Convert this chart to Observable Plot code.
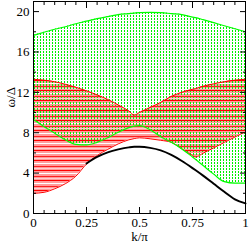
<!DOCTYPE html>
<html><head><meta charset="utf-8">
<script src="https://cdn.jsdelivr.net/npm/d3@7"></script>
<script src="https://cdn.jsdelivr.net/npm/@observablehq/plot@0.6"></script>
<style>html,body{margin:0;padding:0;background:#fff}svg{display:block}#chart svg, #chart svg text{font-family:"Liberation Serif","Times New Roman",serif !important}</style>
</head><body>
<svg width="0" height="0" style="position:absolute">
  <defs>
    <pattern id="pinkFill" patternUnits="userSpaceOnUse" width="4" height="10">
      <rect width="4" height="10" fill="#ff9c9c"/>
      <rect y="3" width="4" height="1" fill="#ffffff"/>
      <rect y="8" width="4" height="1" fill="#ffd0d0"/>
    </pattern>
    <pattern id="redLines" patternUnits="userSpaceOnUse" width="4" height="10">
      <rect y="0" width="4" height="1" fill="#ff0000"/>
      <rect y="6" width="4" height="1" fill="#ff2020"/>
    </pattern>
    <pattern id="greenDots" patternUnits="userSpaceOnUse" width="3" height="3">
      <rect x="1" y="0" width="1" height="2" fill="#00ee00"/>
    </pattern>
  </defs>
</svg>
<div id="chart"></div>
<script>
// momentum grid k/π
const K  = [0,0.05,0.1,0.15,0.2,0.25,0.3,0.35,0.4,0.45,0.475,0.5,0.55,0.6,0.65,0.7,0.75,0.765,0.8,0.85,0.9,0.95,1];
// two-particle continuum (red): lower / upper edge
const twoLow  = [2.0,2.1,2.45,2.95,3.7,4.9,5.75,6.35,6.9,7.3,7.42,7.5,7.4,7.25,7.05,6.4,5.75,5.6,5.97,6.5,7.04,7.57,8.1];
const twoHigh = [13.3,13.2,13.05,12.8,12.5,12.15,11.75,11.3,10.75,10.15,9.75,10.0,10.5,11.0,11.6,12.0,12.3,12.37,12.6,12.85,13.05,13.2,13.3];
// three-particle continuum (green): lower / upper edge
const threeLow  = [9.3,8.6,7.95,7.3,6.85,6.8,7.05,7.5,8.05,8.5,8.65,8.7,8.3,7.6,7.05,6.4,5.6,5.35,4.75,3.9,3.15,3.0,3.0];
const threeHigh = [17.65,17.95,18.25,18.5,18.8,19.05,19.3,19.5,19.7,19.8,19.85,19.9,19.93,19.9,19.8,19.7,19.45,19.4,19.2,18.9,18.6,18.3,18.0];
// single-particle dispersion (black), visible part
const single = [null,null,null,null,null,4.95,5.6,6.05,6.35,6.55,6.6,6.6,6.5,6.25,5.8,5.2,4.5,4.28,3.75,2.95,2.15,1.4,1.0];

const xMajor = [0,0.25,0.5,0.75,1];
const xMajorLabels = ["0","0.25","0.5","0.75","1"];
const xMinor = [0.05,0.1,0.15,0.2,0.3,0.35,0.4,0.45,0.55,0.6,0.65,0.7,0.8,0.85,0.9,0.95];
const yMajor = [0,4,8,12,16,20];
const yMinor = [2,6,10,14,18];
const xTitle = ["k/π"];
const yTitle = ["ω/Δ"];

const rows = K.map((k,i)=>({k, l2: twoLow[i], u2: twoHigh[i], l3: threeLow[i], u3: threeHigh[i], s: single[i]}));
const curve = "monotone-x";
const serif = "Liberation Serif, Times New Roman, serif";

const chart = Plot.plot({
  width: 249, height: 243,
  marginLeft: 33, marginRight: 4, marginTop: 1, marginBottom: 30,
  x: {domain: [0,1]},
  y: {domain: [0,21]},
  style: {fontFamily: serif, fontSize: "13px", background: "#fff", color: "#000"},
  marks: [
    Plot.areaY(rows, {x: "k", y1: "l2", y2: "u2", fill: "url(#pinkFill)", curve}),
    Plot.areaY(rows, {x: "k", y1: "l3", y2: "u3", fill: "url(#greenDots)", curve}),
    Plot.areaY(rows, {x: "k", y1: "l2", y2: "u2", fill: "url(#redLines)", curve}),
    Plot.line(rows, {x: "k", y: "l2", stroke: "#ff0000", strokeWidth: 1, curve}),
    Plot.line(rows, {x: "k", y: "u2", stroke: "#ff0000", strokeWidth: 1, curve}),
    Plot.line(rows, {x: "k", y: "l3", stroke: "#00ff00", strokeWidth: 1.2, curve}),
    Plot.line(rows, {x: "k", y: "u3", stroke: "#00ff00", strokeWidth: 1.2, curve}),
    Plot.line(rows, {x: "k", y: "s", stroke: "#000", strokeWidth: 2, curve}),
    Plot.frame({stroke: "#000", strokeWidth: 1}),
    // inward ticks
    Plot.axisX({ticks: xMajor, anchor: "bottom", tickSize: -6, fill: "none", label: null}),
    Plot.axisX({ticks: xMinor, anchor: "bottom", tickSize: -3, fill: "none", label: null}),
    Plot.axisX({ticks: xMajor, anchor: "top", tickSize: -6, fill: "none", label: null}),
    Plot.axisX({ticks: xMinor, anchor: "top", tickSize: -3, fill: "none", label: null}),
    Plot.axisY({ticks: yMajor, anchor: "left", tickSize: -6, fill: "none", label: null}),
    Plot.axisY({ticks: yMinor, anchor: "left", tickSize: -3, fill: "none", label: null}),
    Plot.axisY({ticks: yMajor, anchor: "right", tickSize: -6, fill: "none", label: null}),
    Plot.axisY({ticks: yMinor, anchor: "right", tickSize: -3, fill: "none", label: null}),
    // labels
    Plot.axisX({ticks: xMajor, anchor: "bottom", tickSize: 0, tickPadding: 4, tickFormat: (d,i)=>xMajorLabels[i], label: null, fontSize: 13, fontFamily: serif}),
    Plot.axisY({ticks: yMajor, anchor: "left", tickSize: 0, tickPadding: 4, label: null, fontSize: 13, fontFamily: serif}),
    Plot.text(xTitle, {frameAnchor: "bottom", dy: 23.5, text: d=>d, fontSize: 13, lineAnchor: "middle", fontFamily: serif}),
    Plot.text(yTitle, {frameAnchor: "left", dx: -23, rotate: -90, text: d=>d, fontSize: 13, fontFamily: serif})
  ]
});
document.getElementById("chart").appendChild(chart);
</script>
</body></html>
